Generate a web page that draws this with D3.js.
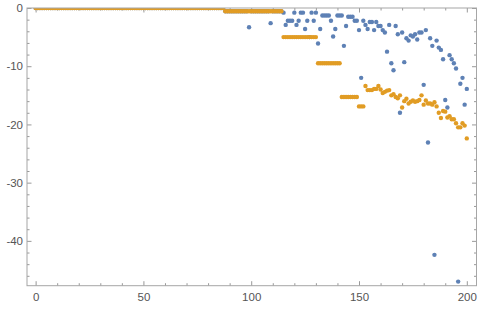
<!DOCTYPE html>
<html>
<head>
<meta charset="utf-8">
<script src="https://cdn.jsdelivr.net/npm/d3@7"></script>
<style>
  body { margin: 0; background: #fff; }
  .tick text { font-family: 'Liberation Sans', Arial, sans-serif; font-size: 11.5px; fill: #555; }
  .tick line { stroke: #999; }
</style>
</head>
<body>
<script>
// flat runs: [from x, to x, value]
const blueSteps = [[0, 87, 0], [88, 114, -0.55]]
const blueOutliers = [[99, -3.3], [109, -2.6]]
// blue values for x = 115 .. 200
const blueTail = [
  -0.8, -2.9, -2.2, -2.2, -2.2, -0.8, -2.9, -2.2, -0.8, -0.8,
  -3.6, -2.2, -5.0, -0.8, -2.2, -0.8, -6.1, -3.6, -1.3, -1.3,
  -1.3, -1.3, -2.2, -4.9, -3.6, -1.3, -1.3, -1.3, -6.5, -3.1,
  -1.5, -1.5, -1.5, -2.2, -2.2, -3.8, -12.0, -2.2, -2.9, -3.6,
  -2.4, -2.4, -3.8, -2.4, -3.1, -3.1, -3.8, -4.2, -7.5, -2.9,
  -9.5, -10.7, -3.1, -4.5, -18.0, -4.2, -9.3, -5.2, -5.6, -4.7,
  -4.9, -4.5, -5.4, -4.2, -4.2, -13.2, -3.8, -23.1, -5.2, -6.5,
  -42.4, -5.6, -6.8, -7.2, -8.8, -15.8, -17.1, -8.1, -8.8, -9.5,
  -10.4, -47.0, -13.0, -12.0, -16.6, -13.9
]
const blueTailStart = 115

const orangeSteps = [[0, 87, 0], [88, 114, -0.55], [115, 130, -5.0],
  [131, 141, -9.5], [142, 149, -15.3], [150, 152, -16.9]]
// orange values for x = 153 .. 200
const orangeTail = [
  -13.4, -14.1, -14.1, -14.1, -13.9, -13.9, -13.4, -14.0, -14.6, -14.4,
  -14.2, -14.1, -15.0, -14.8, -15.3, -15.5, -15.0, -17.1, -16.0, -15.6,
  -16.4, -16.1, -15.9, -16.1, -16.0, -15.8, -15.0, -16.6, -15.9, -16.4,
  -16.4, -16.6, -16.2, -16.9, -18.0, -18.9, -17.7, -17.8, -18.8, -18.6,
  -19.1, -19.1, -19.8, -20.5, -20.5, -19.8, -20.2, -22.4
]
const orangeTailStart = 153

const xTicks = [0, 50, 100, 150, 200]
const yTicks = [0, -10, -20, -30, -40]

function build(steps, tail, tailStart, extra) {
  const pts = []
  steps.forEach(([a, b, v]) => { for (let i = a; i <= b; i++) pts.push([i, v]) })
  tail.forEach((v, i) => pts.push([tailStart + i, v]))
  ;(extra || []).forEach(([x, v]) => {
    const p = pts.find(d => d[0] === x)
    if (p) p[1] = v
  })
  return pts
}

const blue = build(blueSteps, blueTail, blueTailStart, blueOutliers)
const orange = build(orangeSteps, orangeTail, orangeTailStart)

const width = 480
const height = 310
const x0 = 27, x1 = 476.5, y0 = 8, y1 = 285.7

const svg = d3.select('body').append('svg')
  .attr('width', width)
  .attr('height', height)

const xScale = d3.scaleLinear().domain([-4, 204.5]).range([x0, x1])
const yScale = d3.scaleLinear().domain([-47.7, 0]).range([y1, y0])

svg.append('clipPath').attr('id', 'clip')
  .append('rect')
  .attr('x', x0).attr('y', y0)
  .attr('width', x1 - x0).attr('height', y1 - y0)

const fmt = d => String(d)
const minorX = d3.range(0, 205, 10).filter(d => !xTicks.includes(d))
const minorY = d3.range(0, -48, -2).filter(d => !yTicks.includes(d))

function axis(gen, ticks, size, labels) {
  return g => {
    g.call(gen.tickValues(ticks).tickSize(size).tickPadding(labels ? 5 : 0)
      .tickFormat(labels ? fmt : ''))
    g.select('.domain').remove()
  }
}

// bottom
svg.append('g').attr('transform', `translate(0,${y1})`)
  .call(axis(d3.axisBottom(xScale), xTicks, -4.5, true))
  .selectAll('text').attr('dy', '0.9em')
svg.append('g').attr('transform', `translate(0,${y1})`)
  .call(axis(d3.axisBottom(xScale), minorX, -2.5, false))
// top
svg.append('g').attr('transform', `translate(0,${y0})`)
  .call(axis(d3.axisTop(xScale), xTicks, -4.5, false))
svg.append('g').attr('transform', `translate(0,${y0})`)
  .call(axis(d3.axisTop(xScale), minorX, -2.5, false))
// left
svg.append('g').attr('transform', `translate(${x0},0)`)
  .call(axis(d3.axisLeft(yScale), yTicks, -4.5, true))
  .selectAll('text').attr('x', -4)
svg.append('g').attr('transform', `translate(${x0},0)`)
  .call(axis(d3.axisLeft(yScale), minorY, -2.5, false))
// right
svg.append('g').attr('transform', `translate(${x1},0)`)
  .call(axis(d3.axisRight(yScale), yTicks, -4.5, false))
svg.append('g').attr('transform', `translate(${x1},0)`)
  .call(axis(d3.axisRight(yScale), minorY, -2.5, false))

const plot = svg.append('g').attr('clip-path', 'url(#clip)')

plot.selectAll('circle.blue')
  .data(blue)
  .enter()
  .append('circle')
  .attr('class', 'blue')
  .attr('cx', d => xScale(d[0]))
  .attr('cy', d => yScale(d[1]))
  .attr('r', 2.2)
  .attr('fill', '#5e81b5')

plot.selectAll('circle.orange')
  .data(orange)
  .enter()
  .append('circle')
  .attr('class', 'orange')
  .attr('cx', d => xScale(d[0]))
  .attr('cy', d => yScale(d[1]))
  .attr('r', 2.2)
  .attr('fill', '#e19c24')

svg.append('rect')
  .attr('x', x0).attr('y', y0)
  .attr('width', x1 - x0).attr('height', y1 - y0)
  .attr('fill', 'none')
  .attr('stroke', '#a6a6a6')
  .attr('stroke-width', 1)
</script>
</body>
</html>
